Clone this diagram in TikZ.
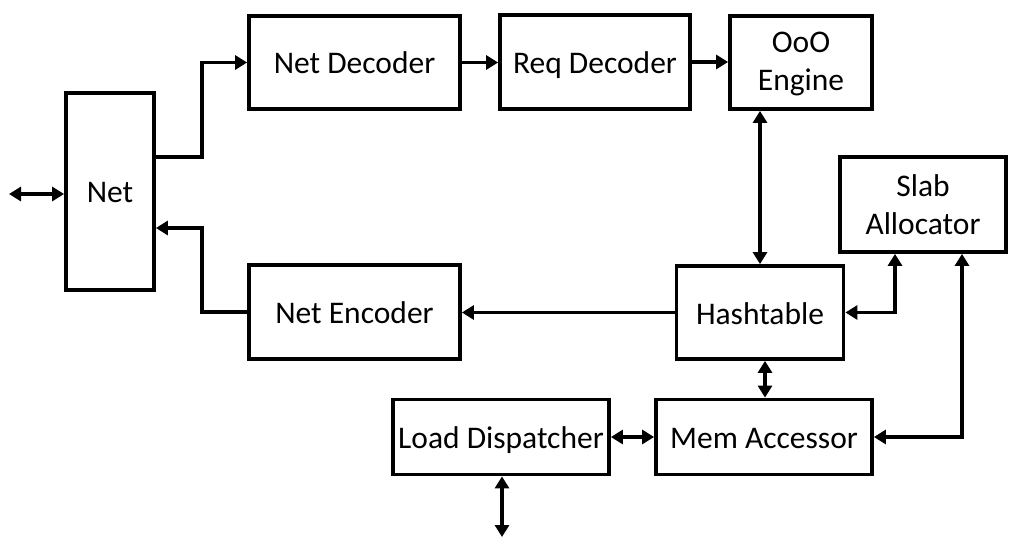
\documentclass[tikz,border=0pt]{standalone}
\usepackage{fontspec}
\setmainfont{Carlito}
\usetikzlibrary{arrows.meta}
\begin{document}
\begin{tikzpicture}[x=1pt,y=-1pt,
  blk/.style={draw=black,line width=3.8pt,fill=white,inner sep=0pt,align=center,
    font=\fontsize{31.5}{38}\selectfont},
  one/.style={text height=29pt,text depth=6pt},
  conn/.style={line width=3.8pt,-{Triangle[length=12pt,width=14pt]}},
  both/.style={line width=3.8pt,{Triangle[length=12pt,width=14pt]}-{Triangle[length=12pt,width=14pt]}}]
\useasboundingbox[fill=white] (0,0) rectangle (1024,545);
\node[blk,one,minimum width=88pt,minimum height=197pt] (Net) at (110,191.5) {Net};
\node[blk,one,minimum width=211pt,minimum height=93pt] (NetDec) at (354.5,62.5) {Net Decoder};
\node[blk,one,minimum width=190pt,minimum height=94pt] (ReqDec) at (595,62) {Req Decoder};
\node[blk,minimum width=142pt,minimum height=93pt,text depth=3pt] (OoO) at (801,62.5) {OoO\\Engine};
\node[blk,minimum width=166pt,minimum height=95pt] (Slab) at (923,204.5) {Slab\\Allocator};
\node[blk,one,minimum width=167pt,minimum height=93pt] (Hash) at (760,312.5) {Hashtable};
\node[blk,one,minimum width=211pt,minimum height=94pt] (NetEnc) at (354.5,312) {Net Encoder};
\node[blk,one,minimum width=216pt,minimum height=75pt] (LD) at (501,437) {Load Dispatcher};
\node[blk,one,minimum width=216pt,minimum height=75pt] (Mem) at (764,437) {Mem Accessor};
\coordinate (ext) at (9,194);
\coordinate (j1) at (202,157);
\coordinate (j2) at (202,228);
\coordinate (j3) at (895,0);
\coordinate (j4) at (962,0);
\coordinate (j5) at (765,0);
\coordinate (ldo) at (502,537);
\draw[both] (ext) -- (ext -| Net.west);
\draw[conn] (Net.east |- j1) -- (j1) |- (NetDec.west);
\draw[conn] (NetEnc.west) -| (j2) -- (Net.east |- j2);
\draw[conn] (NetDec.east) -- (ReqDec.west |- NetDec.east);
\draw[conn] (ReqDec.east) -- (OoO.west |- ReqDec.east);
\draw[both] (Hash.north) -- (Hash.north |- OoO.south);
\draw[conn] (Hash.west) -- (NetEnc.east |- Hash.west);
\draw[both] (Hash.east) -| (Slab.south -| j3);
\draw[both] (Mem.east) -| (Slab.south -| j4);
\draw[both] (Hash.south -| j5) -- (Mem.north -| j5);
\draw[both] (LD.east) -- (Mem.west);
\draw[both] (LD.south -| ldo) -- (ldo);
\end{tikzpicture}
\end{document}
